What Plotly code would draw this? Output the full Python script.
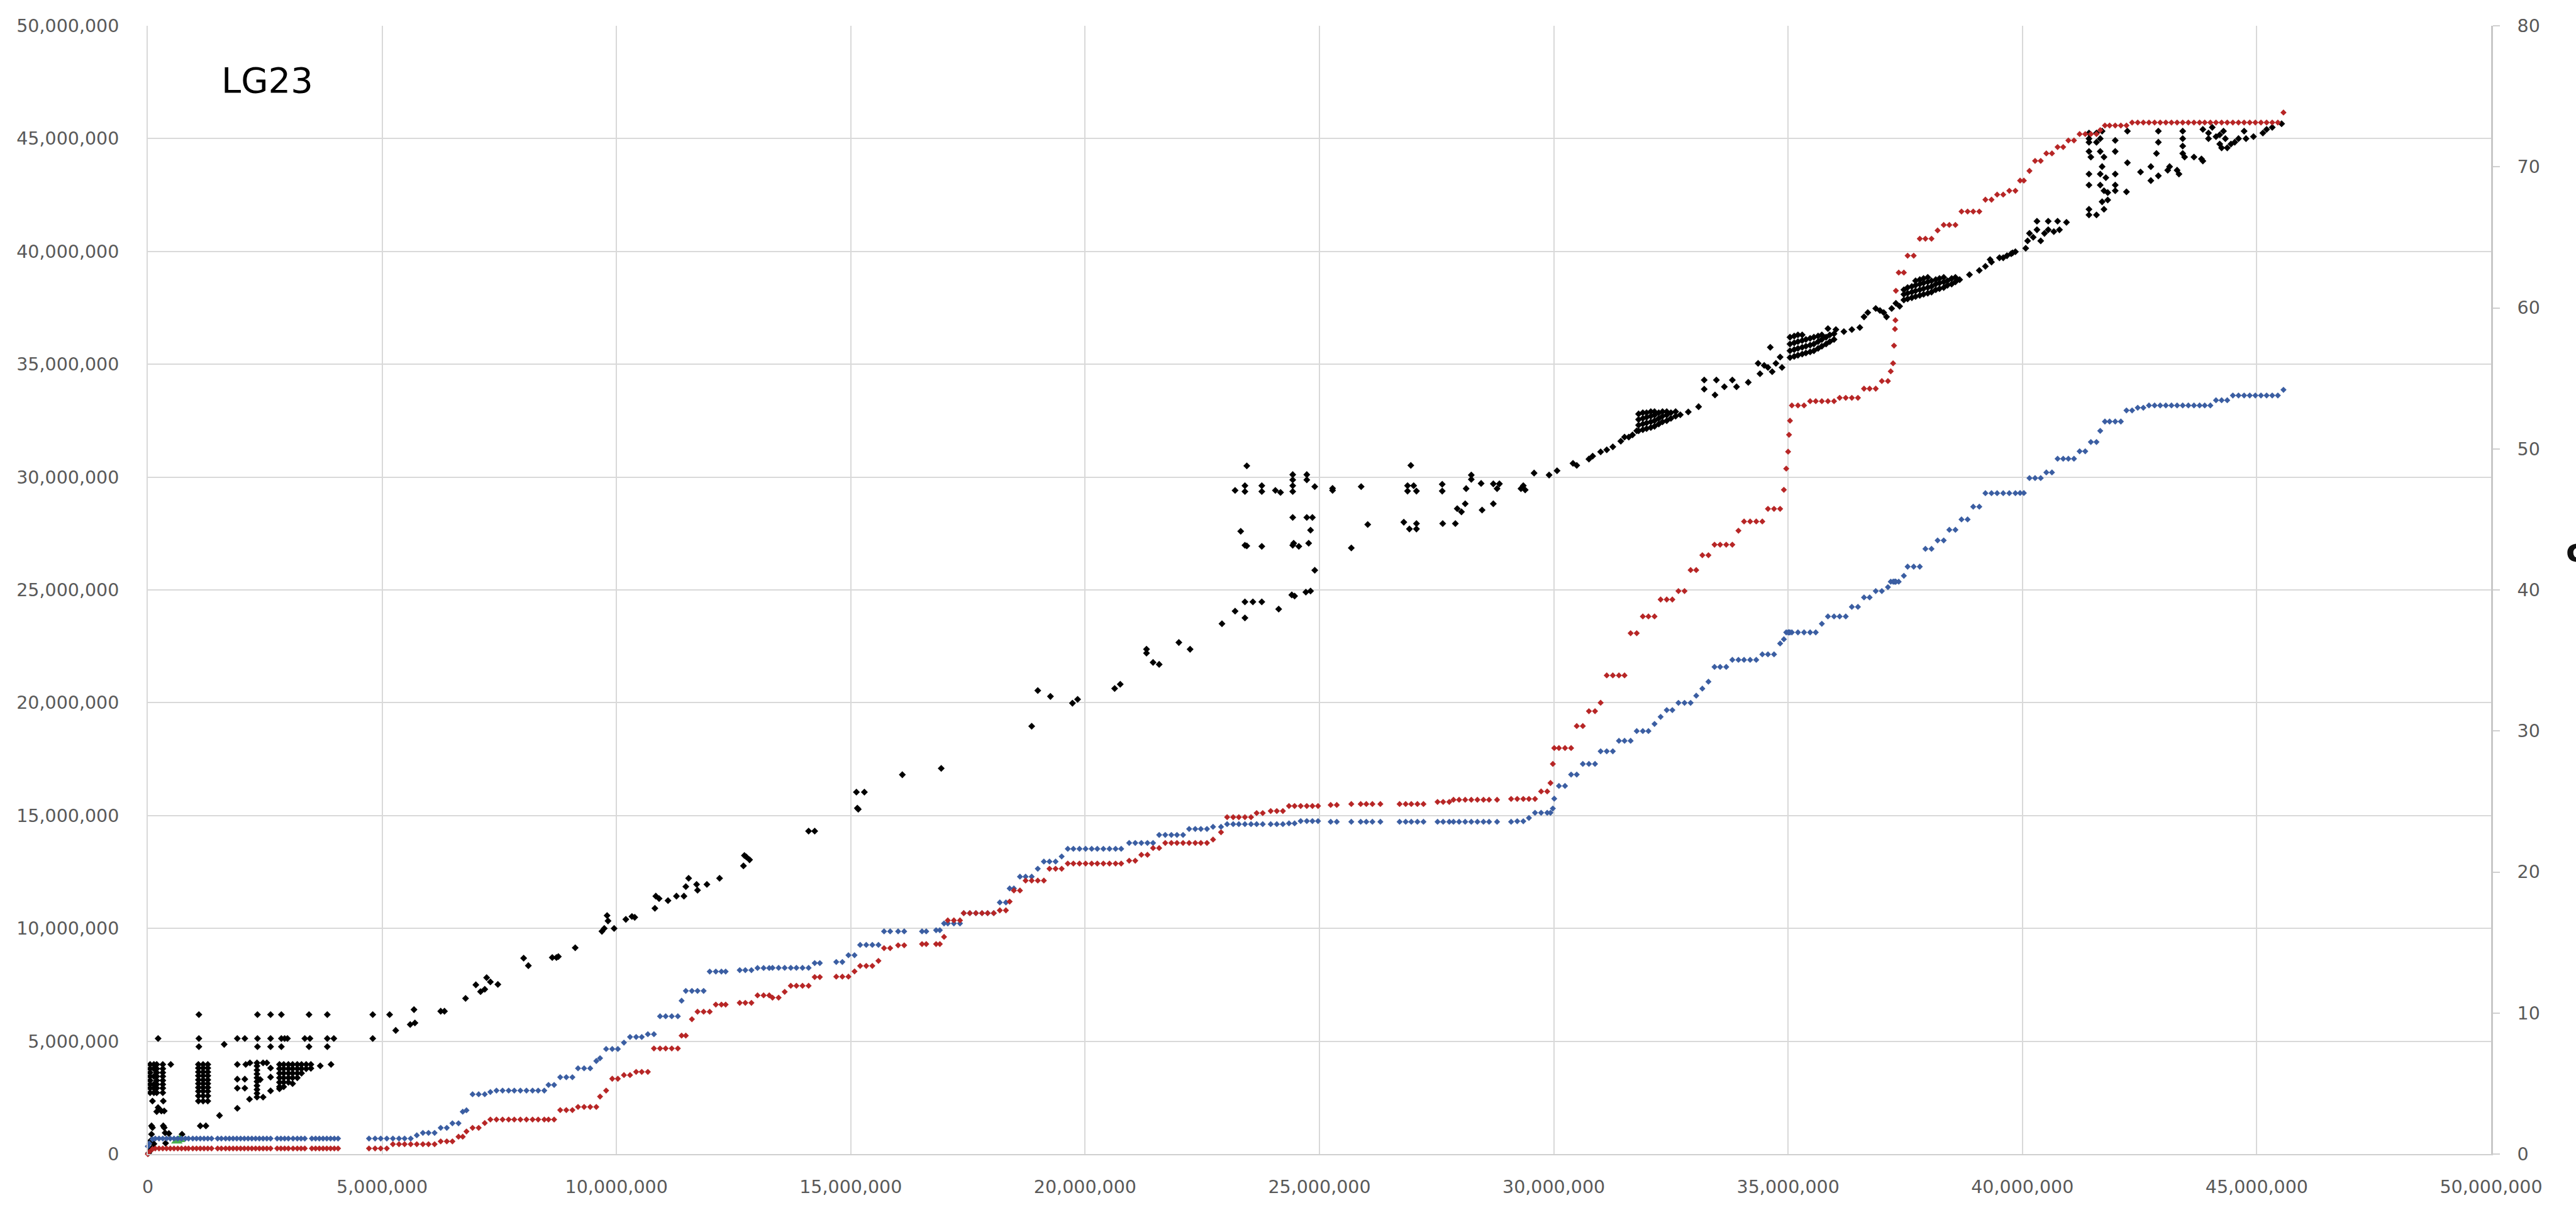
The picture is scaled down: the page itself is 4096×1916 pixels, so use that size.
import plotly.graph_objects as go

MB = 1_000_000

# ---------------------------------------------------------------------------
# Linkage-map markers: physical position (Mb) with positions on two maps (cM)
# ---------------------------------------------------------------------------
marker_mb_a = [0.0, 0.03, 0.1, 0.16, 0.24, 0.32, 0.4, 0.48, 0.56, 0.64,
               0.72, 0.8, 0.87, 0.96, 1.04, 1.12, 1.2, 1.28, 1.36, 1.49,
               1.57, 1.66, 1.74, 1.82, 1.9, 1.98, 2.06, 2.14, 2.22, 2.3,
               2.38, 2.46, 2.54, 2.62, 2.76, 2.84, 2.92, 3.0, 3.1, 3.19,
               3.27, 3.35, 3.5, 3.58, 3.66, 3.74, 3.82, 3.9, 3.98, 4.06]
map1_cm_a = [0.55, 0.75, 1.05, 1.1, 1.1, 1.1, 1.1, 1.1, 1.1, 1.1,
             1.1, 1.1, 1.1, 1.1, 1.1, 1.1, 1.1, 1.1, 1.1, 1.1,
             1.1, 1.1, 1.1, 1.1, 1.1, 1.1, 1.1, 1.1, 1.1, 1.1,
             1.1, 1.1, 1.1, 1.1, 1.1, 1.1, 1.1, 1.1, 1.1, 1.1,
             1.1, 1.1, 1.1, 1.1, 1.1, 1.1, 1.1, 1.1, 1.1, 1.1]
map2_cm_a = [0.0, 0.15, 0.35, 0.4, 0.4, 0.4, 0.4, 0.4, 0.4, 0.4,
             0.4, 0.4, 0.4, 0.4, 0.4, 0.4, 0.4, 0.4, 0.4, 0.4,
             0.4, 0.4, 0.4, 0.4, 0.4, 0.4, 0.4, 0.4, 0.4, 0.4,
             0.4, 0.4, 0.4, 0.4, 0.4, 0.4, 0.4, 0.4, 0.4, 0.4,
             0.4, 0.4, 0.4, 0.4, 0.4, 0.4, 0.4, 0.4, 0.4, 0.4]

marker_mb_b = [4.72, 4.85, 4.97, 5.1, 5.23, 5.36, 5.48, 5.61, 5.74, 5.87,
               5.99, 6.12, 6.25, 6.38, 6.5, 6.63, 6.72, 6.8, 6.93, 7.06,
               7.19, 7.31, 7.44, 7.57, 7.7, 7.82, 7.95, 8.08, 8.21, 8.33,
               8.46, 8.55, 8.67, 8.8, 8.93, 9.06, 9.18, 9.31, 9.44, 9.57,
               9.65, 9.78, 9.91, 10.03, 10.16, 10.29, 10.42, 10.54, 10.67, 10.8,
               10.93, 11.05, 11.18, 11.31, 11.39, 11.48, 11.61, 11.73, 11.86, 11.99,
               12.12, 12.24, 12.33, 12.63, 12.75, 12.88, 13.01, 13.14, 13.26]
map1_cm_b = [1.1, 1.1, 1.1, 1.1, 1.1, 1.1, 1.1, 1.1, 1.33, 1.5,
             1.5, 1.5, 1.86, 1.86, 2.18, 2.18, 3.0, 3.1, 4.24, 4.24,
             4.24, 4.4, 4.5, 4.5, 4.5, 4.5, 4.5, 4.5, 4.5, 4.5,
             4.5, 4.9, 4.9, 5.45, 5.45, 5.45, 6.08, 6.08, 6.08, 6.6,
             6.8, 7.45, 7.45, 7.45, 7.9, 8.3, 8.3, 8.3, 8.5, 8.5,
             9.77, 9.77, 9.77, 9.77, 10.87, 11.57, 11.57, 11.57, 11.57, 12.94,
             12.94, 12.94, 12.94, 13.04, 13.04, 13.04, 13.19, 13.19, 13.19]
map2_cm_b = [0.4, 0.4, 0.4, 0.4, 0.7, 0.7, 0.7, 0.7, 0.7, 0.7,
             0.7, 0.7, 0.9, 0.9, 0.9, 1.23, 1.23, 1.6, 1.86, 1.86,
             2.2, 2.45, 2.45, 2.45, 2.45, 2.45, 2.45, 2.45, 2.45, 2.45,
             2.45, 2.45, 2.45, 3.12, 3.12, 3.12, 3.34, 3.34, 3.34, 3.34,
             4.08, 4.5, 5.34, 5.34, 5.6, 5.6, 5.83, 5.83, 5.83, 7.49,
             7.49, 7.49, 7.49, 7.49, 8.4, 8.4, 9.56, 10.09, 10.09, 10.09,
             10.6, 10.6, 10.6, 10.72, 10.72, 10.72, 11.25, 11.25, 11.25]

marker_mb_c = [13.33, 13.46, 13.59, 13.72, 13.84, 13.97, 14.1, 14.23, 14.34, 14.69,
               14.82, 14.95, 15.08, 15.2, 15.33, 15.46, 15.59, 15.71, 15.84, 16.01,
               16.14, 16.52, 16.61, 16.82, 16.9, 16.99, 17.07, 17.2, 17.33, 17.41,
               17.54, 17.67, 17.8, 17.92, 18.05, 18.18, 18.31, 18.39, 18.48, 18.61,
               18.73, 18.86, 18.99, 19.12, 19.24, 19.37, 19.5, 19.63, 19.75, 19.88,
               20.01, 20.14, 20.26, 20.39, 20.52, 20.65, 20.77, 20.94, 21.07, 21.2,
               21.33, 21.45, 21.58, 21.71, 21.84, 21.96, 22.09, 22.22, 22.35, 22.47,
               22.6, 22.73, 22.9, 23.03, 23.16, 23.28, 23.41, 23.54, 23.66, 23.79,
               23.96, 24.09, 24.22, 24.35, 24.47, 24.6, 24.73, 24.85, 24.97, 25.24,
               25.37, 25.68, 25.88, 26.0, 26.13, 26.3]
map1_cm_c = [13.2, 13.2, 13.2, 13.2, 13.2, 13.2, 13.2, 13.54, 13.54, 13.62,
             13.62, 14.1, 14.1, 14.83, 14.83, 14.83, 14.83, 15.79, 15.79, 15.79,
             15.79, 15.79, 15.79, 15.87, 15.87, 16.35, 16.35, 16.35, 16.35, 17.08,
             17.08, 17.08, 17.08, 17.08, 17.08, 17.84, 17.84, 18.83, 18.83, 19.67,
             19.67, 19.67, 20.23, 20.74, 20.74, 20.74, 21.1, 21.64, 21.64, 21.64,
             21.64, 21.64, 21.64, 21.64, 21.64, 21.64, 21.64, 22.06, 22.06, 22.06,
             22.06, 22.06, 22.63, 22.63, 22.63, 22.63, 22.63, 23.05, 23.05, 23.05,
             23.05, 23.2, 23.2, 23.39, 23.39, 23.39, 23.39, 23.39, 23.39, 23.39,
             23.39, 23.39, 23.39, 23.45, 23.45, 23.61, 23.61, 23.61, 23.61, 23.56,
             23.56, 23.56, 23.56, 23.56, 23.56, 23.56]
map2_cm_c = [11.09, 11.09, 11.5, 11.93, 11.93, 11.93, 11.93, 12.55, 12.55, 12.58,
             12.58, 12.58, 12.95, 13.34, 13.34, 13.34, 13.7, 14.6, 14.6, 14.8,
             14.8, 14.89, 14.89, 14.89, 14.89, 15.4, 16.57, 16.57, 16.57, 17.08,
             17.08, 17.08, 17.08, 17.08, 17.08, 17.28, 17.28, 17.9, 18.69, 18.69,
             19.39, 19.39, 19.39, 19.39, 20.23, 20.23, 20.23, 20.6, 20.6, 20.6,
             20.6, 20.6, 20.6, 20.6, 20.6, 20.6, 20.6, 20.8, 20.8, 21.22,
             21.22, 21.7, 21.7, 22.06, 22.06, 22.06, 22.06, 22.06, 22.06, 22.06,
             22.06, 22.3, 22.82, 23.89, 23.89, 23.89, 23.89, 23.89, 24.18, 24.18,
             24.32, 24.32, 24.32, 24.68, 24.68, 24.68, 24.68, 24.68, 24.68, 24.75,
             24.75, 24.82, 24.82, 24.82, 24.82, 24.82]

marker_mb_d = [26.71, 26.84, 26.96, 27.09, 27.22, 27.52, 27.64, 27.77, 27.86, 27.98,
               28.11, 28.24, 28.37, 28.5, 28.62, 28.79, 29.09, 29.22, 29.35, 29.47,
               29.6, 29.73, 29.86, 29.93, 29.98, 30.01, 30.11, 30.24, 30.37, 30.49,
               30.62, 30.75, 30.88, 31.0, 31.13, 31.26, 31.39, 31.51, 31.64, 31.77,
               31.9, 32.02, 32.15, 32.28, 32.41, 32.53, 32.66, 32.79, 32.92, 33.04,
               33.17, 33.3, 33.43, 33.55, 33.68, 33.81, 33.94, 34.06, 34.19, 34.32,
               34.45, 34.57, 34.7, 34.83, 34.91, 34.96, 35.0, 35.02, 35.04, 35.08,
               35.21, 35.34, 35.47, 35.59, 35.72, 35.85, 35.98, 36.1, 36.23, 36.36,
               36.49, 36.62, 36.74, 36.87, 37.0, 37.13, 37.19, 37.24, 37.26, 37.28,
               37.29, 37.3, 37.36, 37.47, 37.55, 37.68, 37.81, 37.93, 38.06, 38.19,
               38.32, 38.44, 38.57, 38.7, 38.83, 38.95, 39.08, 39.21, 39.34, 39.46,
               39.59, 39.72, 39.85]
map1_cm_d = [23.56, 23.56, 23.56, 23.56, 23.56, 23.56, 23.56, 23.56, 23.56, 23.56,
             23.56, 23.56, 23.56, 23.56, 23.56, 23.56, 23.56, 23.6, 23.6, 23.83,
             24.2, 24.2, 24.2, 24.2, 24.5, 25.2, 26.1, 26.1, 26.91, 26.91,
             27.66, 27.66, 27.66, 28.56, 28.56, 28.56, 29.3, 29.3, 29.3, 29.99,
             29.99, 29.99, 30.5, 31.0, 31.48, 31.48, 31.99, 31.99, 31.99, 32.5,
             33.0, 33.49, 34.54, 34.54, 34.54, 35.04, 35.04, 35.04, 35.04, 35.04,
             35.43, 35.43, 35.43, 36.2, 36.5, 36.99, 36.99, 36.99, 36.99, 36.99,
             36.99, 36.99, 36.99, 36.99, 37.6, 38.12, 38.12, 38.12, 38.12, 38.8,
             38.8, 39.47, 39.47, 39.92, 39.92, 40.2, 40.58, 40.58, 40.58, 40.58,
             40.58, 40.58, 40.58, 41.0, 41.65, 41.65, 41.65, 42.91, 42.91, 43.51,
             43.51, 44.26, 44.26, 45.0, 45.0, 45.9, 45.9, 46.86, 46.86, 46.86,
             46.86, 46.86, 46.86]
map2_cm_d = [24.82, 24.82, 24.82, 24.82, 24.82, 24.97, 24.97, 24.97, 25.12, 25.12,
             25.12, 25.12, 25.12, 25.12, 25.12, 25.12, 25.18, 25.18, 25.18, 25.18,
             25.18, 25.71, 25.71, 26.31, 27.66, 28.79, 28.79, 28.79, 28.79, 30.35,
             30.35, 31.4, 31.4, 32.0, 33.94, 33.94, 33.94, 33.94, 36.93, 36.93,
             38.12, 38.12, 38.12, 39.32, 39.32, 39.32, 39.92, 39.92, 41.41, 41.41,
             42.46, 42.46, 43.21, 43.21, 43.21, 43.21, 44.2, 44.85, 44.85, 44.85,
             44.85, 45.75, 45.75, 45.75, 47.1, 48.6, 49.8, 51.0, 52.0, 53.08,
             53.08, 53.08, 53.38, 53.38, 53.38, 53.38, 53.38, 53.62, 53.62, 53.62,
             53.62, 54.27, 54.27, 54.27, 54.81, 54.81, 55.5, 56.07, 57.32, 58.5,
             59.12, 61.21, 62.5, 62.5, 63.7, 63.7, 64.9, 64.9, 64.9, 65.49,
             65.88, 65.88, 65.88, 66.83, 66.83, 66.83, 66.83, 67.67, 67.67, 68.03,
             68.03, 68.3, 68.3]

marker_mb_e = [39.95, 40.03, 40.15, 40.27, 40.39, 40.51, 40.63, 40.75, 40.87, 40.98,
               41.1, 41.22, 41.34, 41.46, 41.58, 41.66, 41.76, 41.86, 41.98, 42.1,
               42.22, 42.34, 42.46, 42.58, 42.7, 42.82, 42.94, 43.06, 43.18, 43.3,
               43.42, 43.54, 43.66, 43.78, 43.89, 44.01, 44.13, 44.25, 44.37, 44.49,
               44.61, 44.73, 44.85, 44.97, 45.09, 45.21, 45.33, 45.45, 45.57]
map1_cm_e = [46.87, 46.87, 47.93, 47.93, 47.93, 48.33, 48.33, 49.3, 49.3, 49.3,
             49.3, 49.83, 49.83, 50.49, 50.49, 51.28, 51.94, 51.94, 51.94, 51.94,
             52.73, 52.73, 52.92, 52.92, 53.08, 53.08, 53.08, 53.08, 53.08, 53.08,
             53.08, 53.08, 53.08, 53.08, 53.08, 53.08, 53.45, 53.45, 53.45, 53.79,
             53.79, 53.79, 53.79, 53.79, 53.79, 53.79, 53.79, 53.79, 54.19]
map2_cm_e = [69.02, 69.02, 69.71, 70.42, 70.42, 70.95, 70.95, 71.4, 71.4, 71.87,
             71.87, 72.32, 72.32, 72.32, 72.32, 72.6, 72.93, 72.93, 72.93, 72.93,
             72.93, 73.14, 73.14, 73.14, 73.14, 73.14, 73.14, 73.14, 73.14, 73.14,
             73.14, 73.14, 73.14, 73.14, 73.14, 73.14, 73.14, 73.14, 73.14, 73.14,
             73.14, 73.14, 73.14, 73.14, 73.14, 73.14, 73.14, 73.14, 73.85]

# ---------------------------------------------------------------------------
# Assembly-vs-assembly hits (x Mb, y Mb)
# ---------------------------------------------------------------------------
hits_0_to_1mb = [
    (0.02, 0.05), (0.05, 0.15), (0.08, 0.25), (0.13, 0.45), (0.38, 0.48), (0.06, 0.59),
    (0.08, 0.88), (0.37, 0.94), (0.45, 0.91), (0.73, 0.88),
    (0.08, 1.25), (0.10, 1.17), (0.33, 1.25), (0.35, 1.17),
    (0.22, 2.06), (0.29, 1.91), (0.35, 1.91), (0.19, 1.88), (0.10, 2.35), (0.33, 2.35),
    (0.05, 3.97), (0.05, 3.78), (0.05, 3.61), (0.05, 3.44), (0.05, 3.26), (0.05, 3.09), (0.05, 2.92), (0.05, 2.72),
    (0.13, 3.97), (0.13, 3.78), (0.13, 3.44), (0.13, 3.09), (0.13, 2.92), (0.13, 2.72),
    (0.19, 3.97), (0.19, 3.78), (0.19, 3.61), (0.19, 3.44), (0.19, 3.26), (0.19, 3.09), (0.19, 2.92), (0.19, 2.72),
    (0.32, 3.97), (0.32, 3.78), (0.32, 3.61), (0.32, 3.44), (0.32, 3.26), (0.32, 3.09), (0.32, 2.92), (0.32, 2.72),
    (0.49, 3.97), (0.22, 5.12),
]
hits_1_to_5mb = [
    (1.08, 3.97), (1.08, 3.81), (1.08, 3.64), (1.08, 3.47), (1.08, 3.29), (1.08, 3.12), (1.08, 2.95), (1.08, 2.78), (1.08, 2.58), (1.08, 2.35),
    (1.18, 3.97), (1.18, 3.81), (1.18, 3.64), (1.18, 3.47), (1.18, 3.29), (1.18, 3.12), (1.18, 2.95), (1.18, 2.78), (1.18, 2.58), (1.18, 2.35),
    (1.28, 3.97), (1.28, 3.81), (1.28, 3.64), (1.28, 3.47), (1.28, 3.29), (1.28, 3.12), (1.28, 2.95), (1.28, 2.78), (1.28, 2.58), (1.28, 2.35),
    (1.12, 1.25), (1.24, 1.25), (1.09, 6.18), (1.09, 5.12), (1.09, 4.76), (1.63, 4.86), (1.53, 1.71),
    (1.91, 2.03), (2.17, 2.43), (1.91, 3.97), (2.09, 3.97), (2.18, 4.04), (1.91, 3.32), (2.07, 3.32),
    (1.91, 2.92), (2.07, 2.92),
    (2.33, 4.04), (2.33, 3.90), (2.33, 3.72), (2.33, 3.55), (2.33, 3.38), (2.33, 3.21), (2.33, 3.03),
    (2.33, 2.86), (2.33, 2.69), (2.33, 2.52), (2.46, 4.04), (2.46, 2.52), (2.40, 3.30),
    (2.62, 3.81), (2.62, 3.41), (2.62, 2.80), (2.54, 4.04),
    (2.81, 3.97), (2.81, 3.78), (2.81, 3.58), (2.81, 3.38), (2.81, 3.18), (2.81, 2.98), (2.81, 2.89),
    (2.90, 3.97), (2.90, 3.78), (2.90, 3.58), (2.90, 3.38), (2.90, 3.18), (2.90, 2.98),
    (3.00, 3.97), (3.00, 3.78), (3.00, 3.58), (3.00, 3.38), (3.00, 3.18),
    (3.09, 3.97), (3.09, 3.78), (3.09, 3.58), (3.09, 3.38), (3.09, 3.12),
    (3.19, 3.97), (3.19, 3.78), (3.19, 3.58), (3.19, 3.38),
    (3.28, 3.97), (3.28, 3.78), (3.28, 3.58), (3.38, 3.97), (3.38, 3.78), (3.48, 3.97), (3.48, 3.80),
    (3.68, 3.91), (3.91, 3.97),
    (1.91, 5.12), (2.07, 5.12), (2.34, 5.12), (2.62, 5.12), (2.85, 5.12), (2.92, 5.12), (2.98, 5.12),
    (3.35, 5.12), (3.46, 5.12), (3.83, 5.12), (3.97, 5.12), (4.80, 5.12),
    (2.34, 6.18), (2.62, 6.18), (2.85, 6.18), (3.44, 6.18), (3.83, 6.18), (4.80, 6.18),
    (2.34, 4.76), (2.62, 4.76), (2.85, 4.76), (3.44, 4.76), (3.83, 4.76),
]
hits_5_to_13mb = [
    (5.16, 6.18), (5.29, 5.48), (5.60, 5.74), (5.70, 5.81), (5.68, 6.40), (6.25, 6.33), (6.33, 6.33),
    (6.78, 6.90), (7.00, 7.50), (7.10, 7.20), (7.19, 7.30), (7.23, 7.82), (7.31, 7.63), (7.47, 7.52),
    (8.02, 8.68), (8.12, 8.35), (8.63, 8.71), (8.72, 8.71), (8.76, 8.75), (9.12, 9.14),
    (9.69, 9.87), (9.74, 10.00), (9.80, 10.57), (9.82, 10.33), (9.95, 10.00),
    (10.20, 10.40), (10.33, 10.53), (10.39, 10.49), (10.82, 10.89), (10.84, 11.43), (10.91, 11.32),
    (11.10, 11.23), (11.28, 11.43), (11.44, 11.43), (11.48, 11.85), (11.54, 12.22), (11.71, 11.95),
    (11.73, 11.69), (11.93, 11.95), (12.20, 12.22), (12.71, 12.77), (12.73, 13.23), (12.77, 13.17),
    (12.84, 13.04),
]
hits_14_to_26mb = [
    (14.10, 14.31), (14.23, 14.31), (15.16, 15.28), (15.14, 15.33), (15.12, 16.04), (15.29, 16.04),
    (16.10, 16.81), (16.93, 17.09), (18.86, 18.96), (18.99, 20.54), (19.26, 20.28),
    (19.73, 19.98), (19.84, 20.15), (20.63, 20.63), (20.75, 20.82),
    (21.31, 22.37), (21.31, 22.20), (21.45, 21.79), (21.58, 21.70), (22.00, 22.67), (22.24, 22.37),
    (22.92, 23.50), (23.20, 24.06), (23.41, 23.76), (23.41, 24.47), (23.58, 24.47), (23.77, 24.47),
    (24.13, 24.15), (24.41, 24.78), (24.47, 24.73), (24.71, 24.90), (24.81, 24.95), (24.90, 25.87),
    (24.77, 27.07), (24.81, 27.65), (24.43, 26.98), (24.56, 26.93), (24.45, 27.07),
    (23.41, 26.98), (23.45, 26.95), (23.77, 26.93), (23.32, 27.60),
    (24.43, 28.21), (24.73, 28.21), (24.85, 28.21),
    (23.20, 29.41), (23.41, 29.36), (23.41, 29.62), (23.77, 29.62), (23.77, 29.36), (24.06, 29.41),
    (24.17, 29.32), (24.43, 29.36), (24.43, 29.62), (24.43, 29.88), (24.43, 30.11), (24.73, 30.11),
    (24.73, 29.88), (24.90, 29.58), (25.28, 29.50), (25.28, 29.41), (25.89, 29.58),
    (23.45, 30.50), (26.03, 27.90), (25.68, 26.86),
]
hits_27_to_40mb = [
    (26.95, 30.52), (26.88, 29.62), (27.01, 29.62), (26.88, 29.38), (27.07, 29.38),
    (26.80, 28.00), (26.92, 27.70), (27.07, 27.70), (27.07, 27.94), (27.62, 29.68), (27.62, 29.38),
    (27.63, 27.94), (27.90, 27.94), (27.94, 28.60), (28.03, 28.46), (28.11, 28.82),
    (28.24, 30.09), (28.24, 29.90), (28.13, 29.49), (28.45, 29.72), (28.47, 28.54), (28.71, 28.82),
    (28.71, 29.70), (28.84, 29.70), (28.79, 29.49), (29.30, 29.49), (29.39, 29.43), (29.35, 29.62),
    (29.58, 30.18), (29.90, 30.09), (30.07, 30.28), (30.41, 30.61), (30.49, 30.52),
    (30.75, 30.80), (30.83, 30.93), (31.00, 31.12), (31.13, 31.21), (31.26, 31.34), (31.43, 31.59),
    (31.51, 31.77), (31.60, 31.77), (31.68, 31.87), (31.77, 32.05),
    (31.81, 32.05), (31.81, 32.30), (31.81, 32.55), (31.81, 32.80),
    (31.90, 32.10), (31.90, 32.35), (31.90, 32.60), (31.90, 32.85),
    (31.98, 32.15), (31.98, 32.40), (31.98, 32.65), (31.98, 32.85),
    (32.07, 32.20), (32.07, 32.45), (32.07, 32.70), (32.07, 32.90),
    (32.15, 32.25), (32.15, 32.50), (32.15, 32.75), (32.15, 32.90),
    (32.24, 32.35), (32.24, 32.60), (32.24, 32.85), (32.32, 32.45), (32.32, 32.70), (32.32, 32.90),
    (32.41, 32.50), (32.41, 32.75), (32.41, 32.90), (32.50, 32.60), (32.50, 32.85),
    (32.60, 32.70), (32.60, 32.90), (32.70, 32.76), (32.87, 32.89), (33.09, 33.12),
    (33.21, 34.30), (33.21, 33.90), (33.47, 34.30), (33.44, 33.64), (33.64, 34.00), (33.81, 34.30),
    (33.90, 34.00), (34.15, 34.20), (34.62, 35.75),
    (34.36, 35.04), (34.40, 34.58), (34.49, 34.95), (34.57, 34.86), (34.66, 34.67), (34.74, 35.04),
    (34.83, 35.32), (34.87, 34.86),
    (35.04, 35.30), (35.04, 35.60), (35.04, 35.90), (35.04, 36.20),
    (35.13, 35.35), (35.13, 35.65), (35.13, 35.95), (35.13, 36.25),
    (35.21, 35.40), (35.21, 35.70), (35.21, 36.00), (35.21, 36.30),
    (35.30, 35.45), (35.30, 35.75), (35.30, 36.05), (35.30, 36.30),
    (35.38, 35.50), (35.38, 35.80), (35.38, 36.10), (35.47, 35.55), (35.47, 35.85), (35.47, 36.15),
    (35.55, 35.60), (35.55, 35.90), (35.55, 36.20), (35.64, 35.70), (35.64, 36.00), (35.64, 36.25),
    (35.72, 35.80), (35.72, 36.10), (35.72, 36.30), (35.81, 35.90), (35.81, 36.20),
    (35.89, 36.00), (35.89, 36.30), (35.98, 36.10), (35.98, 36.35),
    (35.85, 36.58), (36.02, 36.54), (36.19, 36.45), (36.36, 36.54), (36.53, 36.63),
    (36.62, 37.10), (36.70, 37.29), (36.87, 37.47), (36.96, 37.38), (37.04, 37.29), (37.21, 37.47),
    (37.38, 37.57), (37.10, 37.10), (37.30, 37.70),
    (37.47, 37.85), (37.47, 38.10), (37.47, 38.30), (37.55, 37.90), (37.55, 38.15), (37.55, 38.40),
    (37.64, 37.95), (37.64, 38.20), (37.64, 38.45), (37.72, 38.00), (37.72, 38.25), (37.72, 38.50),
    (37.72, 38.70), (37.81, 38.05), (37.81, 38.30), (37.81, 38.55), (37.81, 38.75),
    (37.89, 38.10), (37.89, 38.35), (37.89, 38.60), (37.89, 38.80),
    (37.98, 38.15), (37.98, 38.40), (37.98, 38.65), (37.98, 38.85),
    (38.06, 38.20), (38.06, 38.45), (38.06, 38.70), (38.15, 38.30), (38.15, 38.55), (38.15, 38.75),
    (38.23, 38.35), (38.23, 38.60), (38.23, 38.80), (38.32, 38.40), (38.32, 38.65), (38.32, 38.85),
    (38.40, 38.50), (38.40, 38.70), (38.49, 38.55), (38.49, 38.80), (38.57, 38.65), (38.57, 38.85),
    (38.66, 38.75),
    (38.87, 38.97), (39.08, 39.16), (39.21, 39.34), (39.34, 39.53), (39.59, 39.72), (39.76, 39.90),
    (39.85, 39.99),
]
hits_40_to_46mb = [
    (39.31, 39.64), (39.51, 39.72), (39.67, 39.81), (39.79, 39.94), (40.07, 40.14), (40.11, 40.47),
    (40.15, 40.80), (40.23, 40.63), (40.31, 40.96), (40.39, 40.47), (40.47, 40.80), (40.55, 40.96),
    (40.67, 40.88), (40.79, 40.96), (40.94, 41.29), (40.31, 41.34), (40.55, 41.34), (40.75, 41.34),
    (41.42, 45.25), (41.58, 45.25), (41.70, 45.33), (41.42, 45.00), (41.66, 45.00),
    (41.42, 44.84), (41.58, 44.84), (41.42, 44.43), (41.66, 44.43), (41.46, 44.18), (41.74, 44.18),
    (41.70, 43.76), (41.42, 43.43), (41.66, 43.43), (41.78, 43.27), (41.42, 42.94), (41.66, 42.94),
    (41.74, 42.69), (41.82, 42.61), (41.70, 42.20), (41.82, 42.28), (41.42, 41.87), (41.74, 41.87),
    (41.42, 41.62), (41.58, 41.62),
    (41.98, 44.92), (41.98, 44.43), (41.98, 43.43), (41.98, 42.94), (41.98, 42.69),
    (42.24, 45.33), (42.24, 43.93), (42.22, 42.64),
    (42.52, 43.52), (42.74, 43.76), (42.74, 43.14), (42.90, 43.35), (42.86, 44.34), (42.90, 44.84),
    (42.90, 45.33), (43.10, 43.60), (43.14, 43.76), (43.30, 43.60), (43.34, 43.43),
    (43.42, 45.33), (43.42, 45.00), (43.42, 44.67), (43.42, 44.34), (43.46, 44.18), (43.66, 44.18),
    (43.85, 44.01), (43.82, 44.10),
    (43.85, 45.41), (43.97, 45.25), (43.97, 45.00), (44.05, 45.50), (44.13, 45.09), (44.21, 44.76),
    (44.29, 45.33), (44.37, 44.59), (44.53, 44.84), (44.61, 45.00), (44.73, 45.33), (44.77, 45.00),
    (44.93, 45.09), (45.13, 45.25), (45.21, 45.41), (45.33, 45.50), (45.53, 45.66),
    (44.21, 45.17), (44.33, 45.00), (44.45, 44.76), (44.25, 44.59),
]

# A few extra hits drawn in green
green_hits = [(0.62, 0.58), (0.68, 0.64)]

# ---------------------------------------------------------------------------
marker_mb = marker_mb_a + marker_mb_b + marker_mb_c + marker_mb_d + marker_mb_e
map1_cm = map1_cm_a + map1_cm_b + map1_cm_c + map1_cm_d + map1_cm_e
map2_cm = map2_cm_a + map2_cm_b + map2_cm_c + map2_cm_d + map2_cm_e
marker_bp = [v * MB for v in marker_mb]

hits = (hits_0_to_1mb + hits_1_to_5mb + hits_5_to_13mb + hits_14_to_26mb
        + hits_27_to_40mb + hits_40_to_46mb)
hit_x = [p[0] * MB for p in hits]
hit_y = [p[1] * MB for p in hits]

TICK_FONT = dict(family="DejaVu Sans", size=28.5, color="#595959")
GRID = "#d9d9d9"

fig = go.Figure()

fig.add_trace(go.Scatter(
    x=hit_x, y=hit_y, mode="markers", yaxis="y",
    marker=dict(symbol="diamond", size=8.5, color="#000000", line=dict(width=0)),
    cliponaxis=False, hoverinfo="skip", showlegend=False))

fig.add_trace(go.Scatter(
    x=marker_bp, y=map1_cm, mode="markers", yaxis="y2",
    marker=dict(symbol="diamond", size=7.5, color="#3B5EA2", line=dict(width=0)),
    cliponaxis=False, hoverinfo="skip", showlegend=False))

fig.add_trace(go.Scatter(
    x=marker_bp, y=map2_cm, mode="markers", yaxis="y2",
    marker=dict(symbol="diamond", size=7.5, color="#B72626", line=dict(width=0)),
    cliponaxis=False, hoverinfo="skip", showlegend=False))

fig.add_trace(go.Scatter(
    x=[p[0] * MB for p in green_hits], y=[p[1] * MB for p in green_hits],
    mode="markers", yaxis="y",
    marker=dict(symbol="triangle-up", size=16, color="#4CAF50", line=dict(width=0)),
    cliponaxis=False, hoverinfo="skip", showlegend=False))

fig.update_layout(
    width=4096, height=1916,
    margin=dict(l=235, r=135, t=41, b=74, pad=0),
    paper_bgcolor="white", plot_bgcolor="white",
    showlegend=False,
    font=dict(family="DejaVu Sans", color="#595959"),
    xaxis=dict(
        range=[0, 50 * MB], tick0=0, dtick=5 * MB, tickformat=",",
        showgrid=True, gridcolor=GRID, gridwidth=1.8,
        zeroline=False, showline=True, linecolor="#cfcfcf", linewidth=2.4,
        ticks="", tickfont=TICK_FONT, ticklabelstandoff=26,
    ),
    yaxis=dict(
        range=[0, 50 * MB], tick0=0, dtick=5 * MB, tickformat=",",
        showgrid=True, gridcolor=GRID, gridwidth=1.8,
        zeroline=False, showline=True, linecolor=GRID, linewidth=1.8,
        ticks="", tickfont=TICK_FONT, ticklabelstandoff=38,
    ),
    yaxis2=dict(
        range=[0, 80], tick0=0, dtick=10, overlaying="y", side="right",
        showgrid=False, zeroline=False,
        showline=True, linecolor="#c8c8c8", linewidth=2.6,
        ticks="outside", ticklen=11, tickwidth=1.8, tickcolor="#d0d0d0",
        tickfont=TICK_FONT, ticklabelstandoff=22,
    ),
    annotations=[
        dict(text="LG23", xref="paper", yref="paper", x=0.0308, y=0.952,
             xanchor="left", yanchor="middle", showarrow=False,
             font=dict(family="DejaVu Sans", size=56, color="#000000")),
        dict(text="<b>cM</b>", xref="paper", yref="paper", x=1.0313, y=0.535,
             xanchor="left", yanchor="middle", showarrow=False,
             font=dict(family="DejaVu Sans", size=52, color="#111111")),
    ],
)

fig.write_html("out.html")
